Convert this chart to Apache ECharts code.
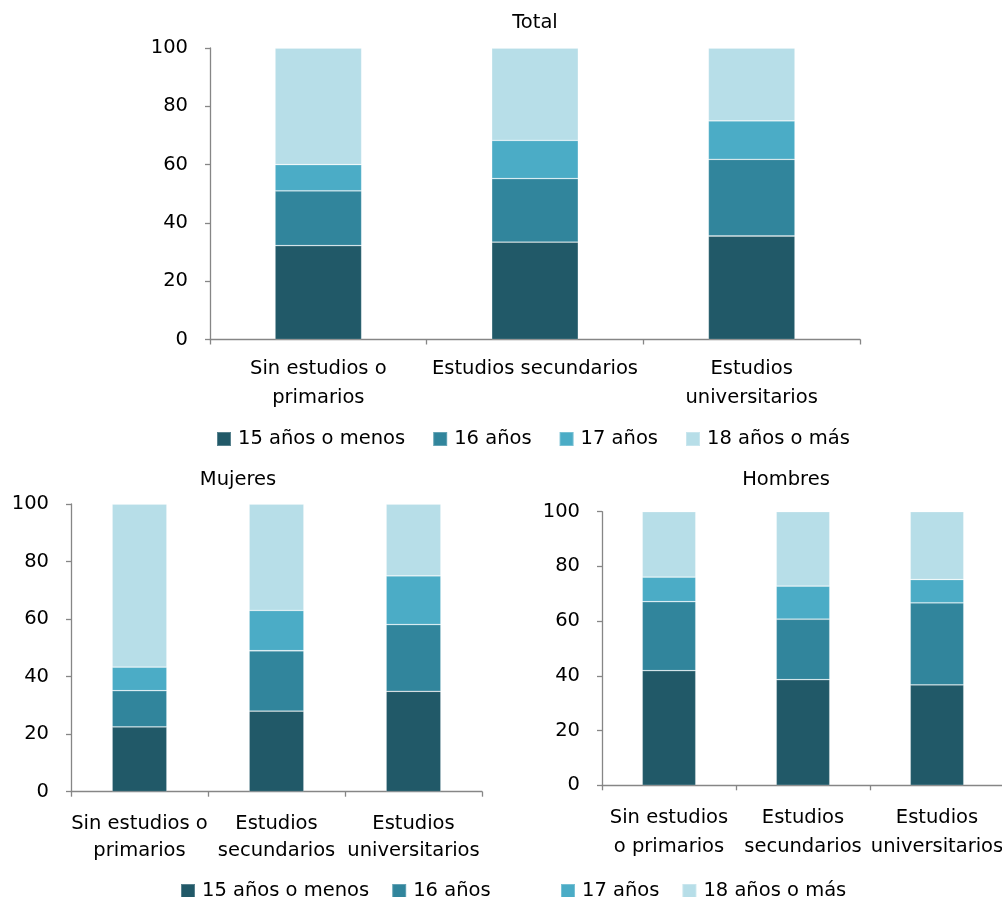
<!DOCTYPE html>
<html>
<head>
<meta charset="utf-8">
<script src="https://cdn.jsdelivr.net/npm/echarts@6/dist/echarts.min.js"></script>
<style>
html,body{margin:0;padding:0;background:#fff;}
#chart{width:1002px;height:897px;}
</style>
</head>
<body>
<div id="chart"></div>
<script>
// ---- Data ----
const ageGroups = ['15 años o menos', '16 años', '17 años', '18 años o más'];
const categoriesTotal = ['Sin estudios o\nprimarios', 'Estudios secundarios', 'Estudios\nuniversitarios'];
const categoriesMujeres = ['Sin estudios o\nprimarios', 'Estudios\nsecundarios', 'Estudios\nuniversitarios'];
const categoriesHombres = ['Sin estudios\no primarios', 'Estudios\nsecundarios', 'Estudios\nuniversitarios'];
const yTicks = [0, 20, 40, 60, 80, 100];

const total15 = [32.2, 33.4, 35.5];
const total16 = [18.8, 21.8, 26.3];
const total17 = [9.0, 13.1, 13.2];
const total18 = [40.0, 31.7, 25.0];

const mujeres15 = [22.5, 28.0, 34.9];
const mujeres16 = [12.6, 21.0, 23.2];
const mujeres17 = [8.2, 14.0, 16.9];
const mujeres18 = [56.7, 37.0, 25.0];

const hombres15 = [41.9, 38.6, 36.7];
const hombres16 = [25.2, 22.1, 30.0];
const hombres17 = [9.0, 12.1, 8.5];
const hombres18 = [23.9, 27.2, 24.8];

const panelTitles = ['Total', 'Mujeres', 'Hombres'];

// ---- Styling ----
const colors = ['#215968', '#31859C', '#4BACC6', '#B7DEE8'];
const FONT = 'DejaVu Sans';
const FS = 19.5;
const axisGray = '#868686';

const chart = echarts.init(document.getElementById('chart'), null, { renderer: 'canvas' });

function xAxis(gridIndex, cats, margin, lh) {
  return {
    type: 'category', gridIndex, data: cats,
    axisLine: { lineStyle: { color: axisGray, width: 1.3 } },
    axisTick: { show: true, length: 5, lineStyle: { color: axisGray, width: 1.3 } },
    axisLabel: { color: '#000', fontFamily: FONT, fontSize: FS, margin, lineHeight: lh, interval: 0 },
    splitLine: { show: false }
  };
}
function yAxis(gridIndex) {
  return {
    type: 'value', gridIndex, min: yTicks[0], max: yTicks[yTicks.length - 1], interval: 20,
    axisLine: { show: true, lineStyle: { color: axisGray, width: 1.3 } },
    axisTick: { show: true, length: 5, lineStyle: { color: axisGray, width: 1.3 } },
    axisLabel: { color: '#000', fontFamily: FONT, fontSize: FS, margin: 22 },
    splitLine: { show: false }
  };
}

const panels = [
  [total15, total16, total17, total18],
  [mujeres15, mujeres16, mujeres17, mujeres18],
  [hombres15, hombres16, hombres17, hombres18]
];
const series = [];
panels.forEach((p, gi) => {
  p.forEach((vals, si) => {
    series.push({
      name: ageGroups[si], type: 'bar', stack: 's' + gi,
      xAxisIndex: gi, yAxisIndex: gi, data: vals, barWidth: '40%',
      itemStyle: { color: colors[si], borderColor: 'rgba(255,255,255,0.25)', borderWidth: 0.8 },
      emphasis: { disabled: true }
    });
  });
});

const legendBase = {
  orient: 'horizontal', icon: 'rect', itemWidth: 14, itemHeight: 14,
  textStyle: { color: '#000', fontFamily: FONT, fontSize: FS, padding: [0, 0, 0, 2] },
  selectedMode: false
};

const option = {
  animation: false,
  backgroundColor: '#fff',
  color: colors,
  grid: [
    { left: 210, top: 48, width: 650, height: 291.5, outerBoundsMode: 'none', containLabel: false },
    { left: 71, top: 504, width: 411, height: 287.7, outerBoundsMode: 'none', containLabel: false },
    { left: 602, top: 511.7, width: 402, height: 273.6, outerBoundsMode: 'none', containLabel: false }
  ],
  xAxis: [
    xAxis(0, categoriesTotal, 15, 29),
    xAxis(1, categoriesMujeres, 19, 27),
    xAxis(2, categoriesHombres, 18, 29)
  ],
  yAxis: [yAxis(0), yAxis(1), yAxis(2)],
  legend: [
    Object.assign({}, legendBase, { data: ageGroups, left: 211, top: 424, itemGap: 27 }),
    Object.assign({}, legendBase, { data: ageGroups.slice(0, 2), left: 175, top: 876, itemGap: 22 }),
    Object.assign({}, legendBase, { data: ageGroups.slice(2), left: 555, top: 876, itemGap: 22 })
  ],
  graphic: [
    { type: 'text', x: 535, y: 23, style: { text: panelTitles[0], textAlign: 'center', textVerticalAlign: 'middle', font: FS + 'px "' + FONT + '"', fill: '#000' } },
    { type: 'text', x: 238, y: 480, style: { text: panelTitles[1], textAlign: 'center', textVerticalAlign: 'middle', font: FS + 'px "' + FONT + '"', fill: '#000' } },
    { type: 'text', x: 786, y: 480, style: { text: panelTitles[2], textAlign: 'center', textVerticalAlign: 'middle', font: FS + 'px "' + FONT + '"', fill: '#000' } }
  ],
  series
};
chart.setOption(option);
</script>
</body>
</html>
